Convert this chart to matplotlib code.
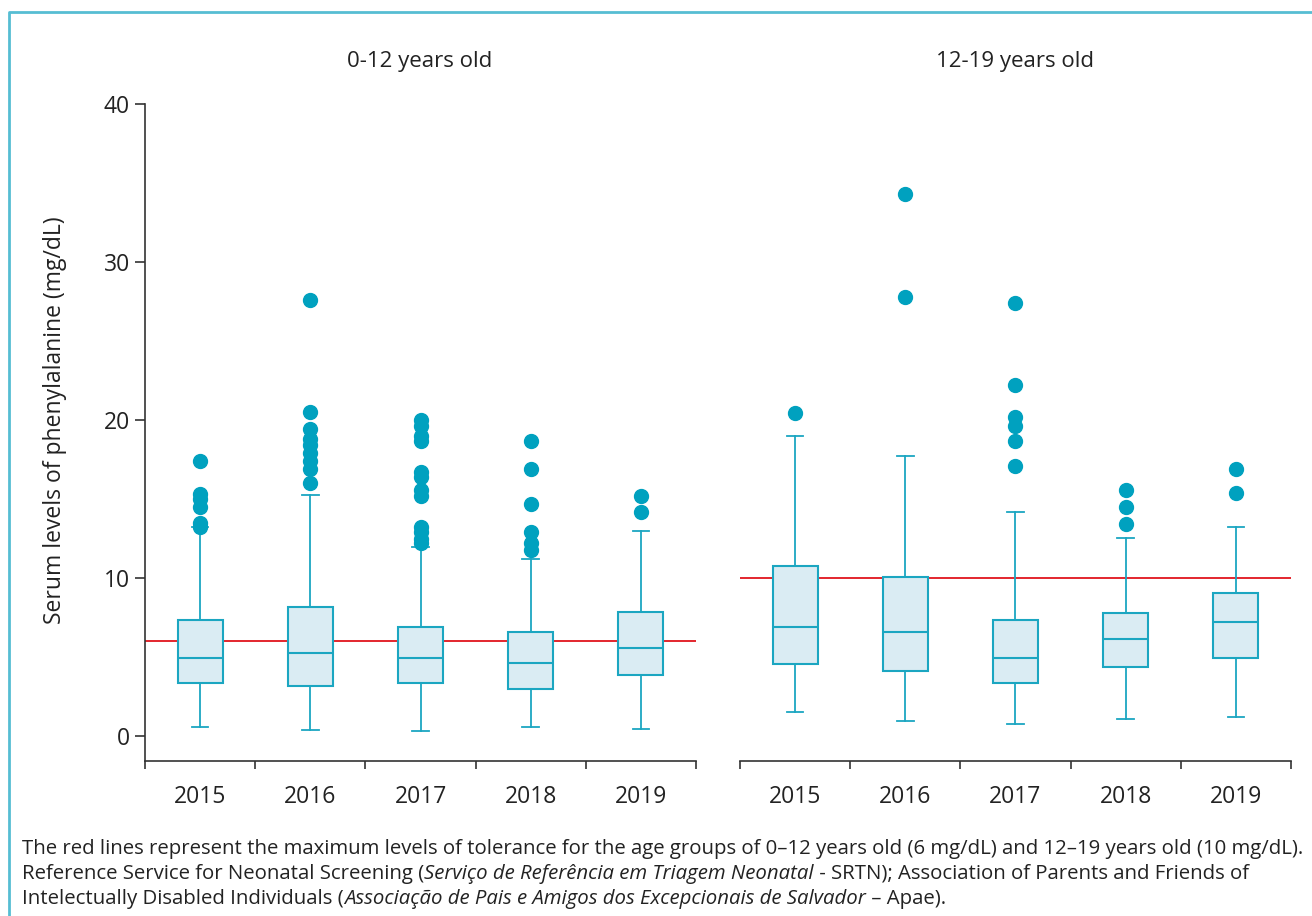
import matplotlib
matplotlib.use("Agg")
import matplotlib.pyplot as plt
from matplotlib.lines import Line2D

YEARS = ["2015", "2016", "2017", "2018", "2019"]
GROUPS = ["0-12 years old", "12-19 years old"]
LIMITS = [6, 10]

# 0-12 years old
Q1_A = [3.33, 3.19, 3.33, 3.00, 3.84]
MED_A = [4.96, 5.23, 4.96, 4.60, 5.59]
Q3_A = [7.34, 8.18, 6.88, 6.56, 7.87]
LO_A = [0.55, 0.38, 0.29, 0.59, 0.44]
HI_A = [13.25, 15.25, 11.98, 11.18, 12.99]
OUT_A = [
    [17.4, 15.3, 15.0, 14.5, 13.5, 13.2],
    [27.6, 20.5, 19.4, 18.8, 18.4, 17.9, 17.4, 16.9, 16.0],
    [20.0, 19.6, 19.0, 18.7, 16.7, 16.4, 15.6, 15.2, 13.25, 12.9, 12.5, 12.24],
    [18.7, 16.9, 14.7, 12.9, 12.2, 11.8],
    [15.2, 14.2],
]

# 12-19 years old
Q1_B = [4.59, 4.12, 3.35, 4.37, 4.92]
MED_B = [6.90, 6.58, 4.92, 6.11, 7.21]
Q3_B = [10.79, 10.04, 7.33, 7.80, 9.08]
LO_B = [1.52, 0.96, 0.79, 1.10, 1.22]
HI_B = [19.01, 17.75, 14.19, 12.53, 13.20]
OUT_B = [
    [20.42],
    [34.3, 27.8],
    [27.4, 22.24, 20.2, 19.6, 18.7, 17.1],
    [15.55, 14.5, 13.4],
    [16.9, 15.35],
]

CAPTION = [
    [("The red lines represent the maximum levels of tolerance for the age groups of 0\u201312 years old (6 mg/dL) and 12\u201319 years old (10 mg/dL).", False)],
    [("Reference Service for Neonatal Screening (", False),
     ("Servi\u00e7o de Refer\u00eancia em Triagem Neonatal", True),
     (" - SRTN); Association of Parents and Friends of", False)],
    [("Intelectually Disabled Individuals (", False),
     ("Associa\u00e7\u00e3o de Pais e Amigos dos Excepcionais de Salvador", True),
     (" \u2013 Apae).", False)],
]

TEAL = "#1ba6c1"
DOT = "#00a1bf"
FILL = "#daecf3"
RED = "#e3262d"
AXC = "#333333"
TXT = "#222222"
FONT = "Open Sans"

plt.rcParams["font.family"] = [FONT, "DejaVu Sans"]

W, H = 1312, 916
fig = plt.figure(figsize=(W / 100, H / 100), dpi=100)

def px(x, y):
    return x / W, 1 - y / H

ax_w = 551 / W
ax_h = (761 - 104) / H
ax_b = 1 - 761 / H
axes = [fig.add_axes([145 / W, ax_b, ax_w, ax_h]),
        fig.add_axes([740 / W, ax_b, ax_w, ax_h])]

data = [(Q1_A, MED_A, Q3_A, LO_A, HI_A, OUT_A), (Q1_B, MED_B, Q3_B, LO_B, HI_B, OUT_B)]

for i, ax in enumerate(axes):
    q1, med, q3, lo, hi, out = data[i]
    stats = []
    for j in range(len(YEARS)):
        stats.append({"q1": q1[j], "med": med[j], "q3": q3[j],
                      "whislo": lo[j], "whishi": hi[j], "fliers": out[j]})
    ax.axhline(LIMITS[i], color=RED, lw=1.4, zorder=1)
    ax.bxp(stats, positions=range(1, 6), widths=0.41, capwidths=0.15,
           patch_artist=True, showfliers=True,
           boxprops=dict(facecolor=FILL, edgecolor=TEAL, lw=1.5),
           medianprops=dict(color=TEAL, lw=1.5),
           whiskerprops=dict(color=TEAL, lw=1.3),
           capprops=dict(color=TEAL, lw=1.3),
           flierprops=dict(marker="o", markerfacecolor=DOT, markeredgecolor=DOT,
                           markersize=10, linestyle="none"),
           zorder=3)
    ax.set_xlim(0.5, 5.5)
    ax.set_ylim(-1.58, 40)
    ax.set_xticks(range(1, 6))
    ax.set_xticklabels(YEARS, fontsize=16.5, color=TXT)
    ax.set_xticks([k + 0.5 for k in range(0, 6)], minor=True)
    ax.tick_params(axis="x", which="major", length=0, pad=17)
    ax.tick_params(axis="x", which="minor", length=5.5, width=1.2, color=AXC)
    for s in ["top", "right"]:
        ax.spines[s].set_visible(False)
    ax.spines["bottom"].set_color(AXC)
    ax.spines["bottom"].set_linewidth(1.2)
    if i == 0:
        ax.spines["left"].set_color(AXC)
        ax.spines["left"].set_linewidth(1.2)
        ax.set_yticks([0, 10, 20, 30, 40])
        ax.tick_params(axis="y", length=7, width=1.2, color=AXC, pad=4,
                       labelsize=16.5, labelcolor=TXT)
    else:
        ax.spines["left"].set_visible(False)
        ax.set_yticks([])
    ax.set_facecolor("none")

# panel titles
fig.text(*px(420, 61), GROUPS[0], ha="center", va="center", fontsize=16, color=TXT)
fig.text(*px(1015, 61), GROUPS[1], ha="center", va="center", fontsize=16, color=TXT)
fig.text(*px(55, 420), "Serum levels of phenylalanine (mg/dL)", rotation=90,
         ha="center", va="center", fontsize=16.5, color=TXT)

# frame
fig.add_artist(Line2D([9 / W, 9 / W, 1.0], [0.0, 1 - 12 / H, 1 - 12 / H],
                      transform=fig.transFigure, color="#56bdd3", lw=2))

# caption with mixed italics, sized so the first line spans the reference width
renderer = fig.canvas.get_renderer()
probe = fig.text(0, 0, CAPTION[0][0][0], fontsize=10)
cap_size = 10 * (1305 - 22) / probe.get_window_extent(renderer).width
probe.remove()

line_y = [849, 874, 899]
for parts, yy in zip(CAPTION, line_y):
    x = 22
    for txt, ital in parts:
        t = fig.text(*px(x, yy), txt, ha="left", va="center", fontsize=cap_size,
                     style="italic" if ital else "normal", color=TXT)
        x += t.get_window_extent(renderer).width

fig.savefig("out.png", dpi=100)
